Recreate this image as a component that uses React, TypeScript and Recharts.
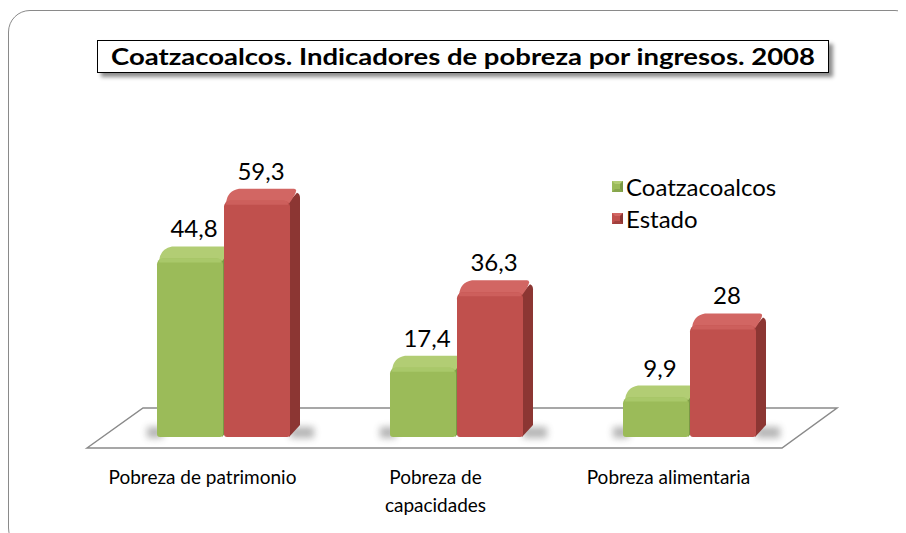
import { Bar, BarChart, LabelList, XAxis, YAxis } from "recharts";

// --- datos ---
const categorias = ["Pobreza de patrimonio", "Pobreza de\ncapacidades", "Pobreza alimentaria"];
const coatzacoalcos = [44.8, 17.4, 9.9];
const estado = [59.3, 36.3, 28];
const series = ["Coatzacoalcos", "Estado"];
const titulo = "Coatzacoalcos. Indicadores de pobreza por ingresos. 2008";

const data = categorias.map((categoria, i) => ({
  categoria,
  coatza: coatzacoalcos[i],
  estado: estado[i],
}));

// --- layout ---
const W = 898;
const H = 525;
const PLOT = { left: 78, right: 777, top: 150, bottom: 429 };
const AXIS_H = 60;
const SHIFT = 21; // desplazamiento de perspectiva 3D
const DEPTH = 10;
const RISE = 12;
const FONT = "Lato, 'Open Sans', sans-serif";

interface Palette {
  front: string;
  top: string;
  side: string;
  light: string;
}

const verde: Palette = { front: "#9bbb59", top: "#b2cd74", side: "#7a9744", light: "#a9c86a" };
const rojo: Palette = { front: "#c0504d", top: "#d26663", side: "#8c3633", light: "#cd5f5c" };

const fmt = (v: number) => String(v).replace(".", ",");

function makeShape(c: Palette, sombraIzq: boolean) {
  return function BarShape(props: any) {
    const { x, y, width, height } = props;
    if (!height || height <= 0) return <g />;
    const X = x + SHIFT;
    const w = width;
    const b = y + height;
    const d = DEPTH;
    const r = RISE;
    return (
      <g>
        <rect
          x={sombraIzq ? X - 10 : X + w}
          y={b - 10}
          width={sombraIzq ? 16 : d + 14}
          height={11}
          fill="#444"
          opacity={0.4}
          style={{ filter: "blur(3.5px)" }}
        />
        <path
          d={`M${X + w - 2},${y + 2} L${X + w + d - 3},${y - r + 4} Q${X + w + d},${y - r + 5} ${X + w + d},${y - r + 9} L${X + w + d},${b - r} L${X + w - 1},${b} Z`}
          fill={c.side}
        />
        <path
          d={`M${X + 2},${y + 3} Q${X + 3},${y - r + 2} ${X + d + 5},${y - r} L${X + w + d - 6},${y - r} Q${X + w + d},${y - r} ${X + w - 1},${y + 3} Z`}
          fill={c.top}
        />
        <rect x={X} y={y} width={w} height={height} rx={6} fill={c.front} />
        <rect x={X + 2} y={y} width={w - 4} height={6} rx={3} fill={c.light} />
        <rect x={X} y={y + 4} width={w} height={height - 4} rx={3} fill={c.front} />
      </g>
    );
  };
}

function ValueLabel(props: any) {
  const { x, y, width, value } = props;
  return (
    <text
      x={x + SHIFT + width / 2 + 4}
      y={y - RISE - 9}
      textAnchor="middle"
      fontFamily={FONT}
      fontSize={24}
      fill="#000"
    >
      {fmt(Number(value))}
    </text>
  );
}

function CategoryTick(props: any) {
  const { x, y, payload } = props;
  const lines = String(payload.value).split("\n");
  return (
    <text x={x} y={y + 47} textAnchor="middle" fontFamily={FONT} fontSize={19} fill="#000">
      {lines.map((l, i) => (
        <tspan key={i} x={x} dy={i === 0 ? 0 : 28}>
          {l}
        </tspan>
      ))}
    </text>
  );
}

function LegendBox() {
  const paletas = [verde, rojo];
  return (
    <div
      style={{
        position: "absolute",
        left: 604,
        top: 162,
        fontFamily: FONT,
        fontSize: 24,
        color: "#000",
      }}
    >
      {series.map((s, i) => (
        <div key={s} style={{ display: "flex", alignItems: "center", height: 32 }}>
          <svg width={11} height={11} style={{ marginRight: 3 }}>
            <rect x={0} y={0} width={11} height={11} fill={paletas[i].front} />
            <polygon points="0,0 11,0 8,3 3,3" fill={paletas[i].top} />
            <polygon points="11,0 11,11 8,8 8,3" fill={paletas[i].side} />
            <polygon points="0,11 11,11 8,8 3,8" fill={paletas[i].side} opacity={0.6} />
          </svg>
          <span>{s}</span>
        </div>
      ))}
    </div>
  );
}

export default function App() {
  const pisoFrente = PLOT.bottom + 11;
  const pisoFondo = PLOT.bottom - 29;
  const piso = [
    [PLOT.left + 1, pisoFrente],
    [PLOT.left + 57, pisoFondo],
    [PLOT.right + 52, pisoFondo],
    [PLOT.right - 3, pisoFrente],
  ]
    .map((p) => p.join(","))
    .join(" ");

  return (
    <div style={{ position: "relative", width: W, height: H, overflow: "hidden", background: "#fff" }}>
      <div
        style={{
          position: "absolute",
          left: 0,
          top: 2,
          width: 909,
          height: 540,
          border: "1.5px solid #8a8a8a",
          borderRadius: 22,
          boxSizing: "border-box",
        }}
      />
      <svg style={{ position: "absolute", left: 0, top: 0 }} width={W} height={H}>
        <polygon points={piso} fill="#fff" stroke="#8a8a8a" strokeWidth={1.5} />
      </svg>
      <div
        style={{
          position: "absolute",
          left: 89,
          top: 32,
          width: 732,
          height: 33,
          border: "1px solid #000",
          background: "#fff",
          boxShadow: "4px 4px 4px rgba(0,0,0,0.45)",
          boxSizing: "border-box",
        }}
      >
        <svg width={730} height={31} style={{ display: "block" }}>
          <text
            x={365}
            y={24}
            textAnchor="middle"
            fontFamily={FONT}
            fontWeight={700}
            fontSize={22}
            textLength={704}
            lengthAdjust="spacingAndGlyphs"
            fill="#000"
          >
            {titulo}
          </text>
        </svg>
      </div>
      <LegendBox />
      <div style={{ position: "absolute", left: 0, top: 0 }}>
        <BarChart
          width={W}
          height={H}
          data={data}
          barSize={66}
          barGap={1}
          margin={{
            top: PLOT.top,
            left: PLOT.left,
            right: W - PLOT.right,
            bottom: H - PLOT.bottom - AXIS_H,
          }}
        >
          <XAxis
            dataKey="categoria"
            axisLine={false}
            tickLine={false}
            tickSize={0}
            tickMargin={0}
            interval={0}
            height={AXIS_H}
            tick={<CategoryTick />}
          />
          <YAxis hide domain={[0, 70]} width={0} />
          <Bar dataKey="coatza" name={series[0]} shape={makeShape(verde, true)} isAnimationActive={false}>
            <LabelList dataKey="coatza" content={<ValueLabel />} />
          </Bar>
          <Bar dataKey="estado" name={series[1]} shape={makeShape(rojo, false)} isAnimationActive={false}>
            <LabelList dataKey="estado" content={<ValueLabel />} />
          </Bar>
        </BarChart>
      </div>
    </div>
  );
}
